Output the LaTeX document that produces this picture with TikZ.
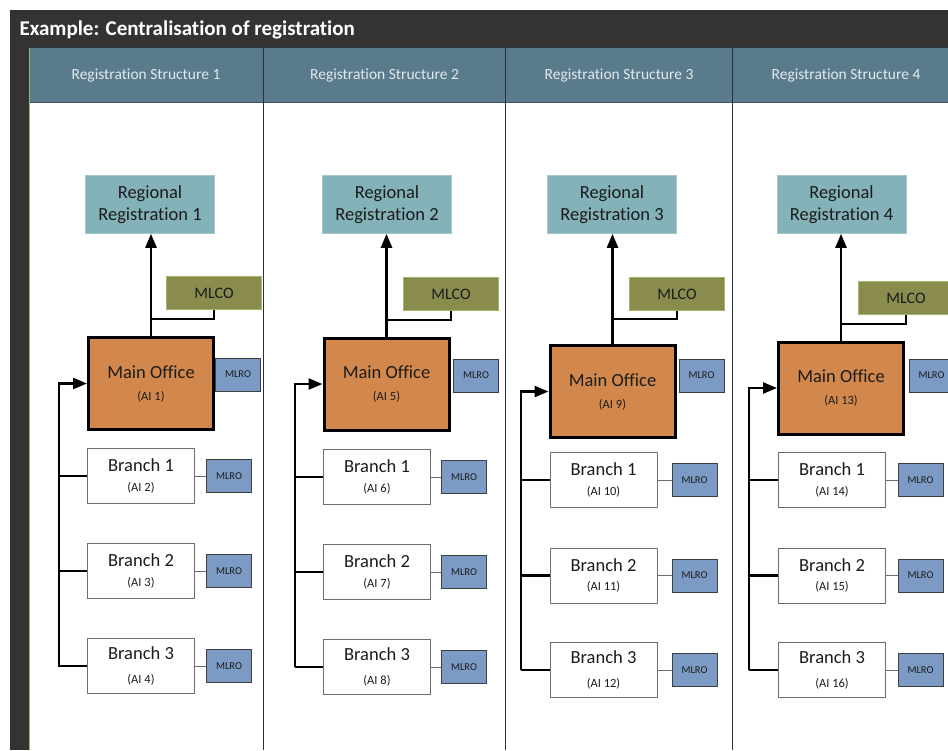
\documentclass[tikz,border=0pt]{standalone}
\usepackage{fontspec}
\setmainfont{Carlito}[Ligatures=NoCommon]
\usetikzlibrary{arrows.meta}

\definecolor{barbg}{HTML}{333333}
\definecolor{headbg}{HTML}{5A7B8C}
\definecolor{headtxt}{HTML}{E2E9EC}
\definecolor{headline}{HTML}{3D5566}
\definecolor{coldiv}{HTML}{243340}
\definecolor{stripline}{HTML}{8DBA6C}
\definecolor{regfill}{HTML}{83B3B8}
\definecolor{regline}{HTML}{A3C8CC}
\definecolor{mlcofill}{HTML}{8A8C4E}
\definecolor{mlcoline}{HTML}{A6B56B}
\definecolor{mofill}{HTML}{D2884C}
\definecolor{mlrofill}{HTML}{7B9BC4}
\definecolor{mlroline}{HTML}{3E3E3E}
\definecolor{brline}{HTML}{6E6E6E}
\definecolor{boxtxt}{HTML}{1C1C1C}

\newcommand{\aifont}{\fontsize{12.5}{14}\selectfont}

\begin{document}
\begin{tikzpicture}[x=1pt,y=-1pt,
  regbox/.style={fill=regfill, draw=regline, line width=0.6pt,
    minimum width=129pt, minimum height=58pt, inner sep=0pt, align=center,
    text=boxtxt, font=\fontsize{18.5}{21.7}\selectfont},
  mlcobox/.style={fill=mlcofill, draw=mlcoline, line width=0.8pt,
    minimum width=95pt, minimum height=33pt, inner sep=0pt,
    text=boxtxt, font=\fontsize{16}{18}\selectfont},
  mainbox/.style={fill=mofill, draw=black, line width=3pt,
    minimum width=125pt, minimum height=92pt, inner sep=0pt, align=center,
    text=boxtxt, font=\fontsize{18.5}{22}\selectfont},
  mlrobox/.style={fill=mlrofill, draw=mlroline, line width=0.8pt,
    minimum width=45pt, minimum height=33pt, inner sep=0pt,
    text=boxtxt, font=\fontsize{10.5}{12}\selectfont},
  branchbox/.style={fill=white, draw=brline, line width=1pt,
    minimum width=107pt, minimum height=55pt, inner sep=0pt, align=center,
    text=boxtxt, font=\fontsize{18.5}{19.5}\selectfont},
  headtext/.style={text=headtxt, font=\fontsize{15.5}{18}\selectfont},
  mainarrow/.style={line width=2.5pt, draw=black,
    -{Triangle[length=14pt,width=11pt]}},
  trunkline/.style={line width=2.3pt, draw=black},
  mlcolink/.style={line width=2pt, draw=black},
  mlrolink/.style={line width=0.9pt, draw=brline}
]
\useasboundingbox (0,0) rectangle (948,750);
\begin{scope}
\clip (0,0) rectangle (948,750);
\fill[white] (0,0) rectangle (948,750);

% title bar, left strip and header row
\fill[barbg] (10,10) rectangle (948,47);
\node[anchor=base west, text=white, font=\bfseries\fontsize{21}{24}\selectfont]
  (title) at (16,35) {Example: Centralisation of registration};
\fill[barbg] (10,47) rectangle (29,750);
\draw[stripline, line width=0.8pt] (29.5,47) -- (29.5,750);
\fill[headbg] (30,47) rectangle (948,102);
\draw[headline, line width=0.8pt] (30,102) -- (948,102);
\draw[coldiv, line width=0.8pt] (29,47) -- (948,47);
\foreach \cx in {263.5,505.5,732.5}
  \draw[coldiv, line width=1.2pt] (\cx,47) -- (\cx,750);

\node[headtext] (h1) at (146,75) {Registration Structure 1};
\node[headtext] (h2) at (384.5,75) {Registration Structure 2};
\node[headtext] (h3) at (619,75) {Registration Structure 3};
\node[headtext] (h4) at (846,75) {Registration Structure 4};

% ---------- structure 1 ----------
\node[regbox] (rr1) at (150,204.5) {Regional\\Registration 1};
\node[mlcobox] (mlco1) at (214,293) {MLCO};
\node[mainbox] (mo1) at (151,383.5) {Main Office\\{\aifont (AI 1)}};
\node[mlrobox] (mlm1) at (238,374.5) {MLRO};
\node[branchbox] (b11) at (141,476) {Branch 1\\{\aifont (AI 2)}};
\node[mlrobox] (ml11) at (229,476) {MLRO};
\node[branchbox] (b12) at (141,571) {Branch 2\\{\aifont (AI 3)}};
\node[mlrobox] (ml12) at (229,571) {MLRO};
\node[branchbox] (b13) at (141,666) {Branch 3\\[4pt]{\aifont (AI 4)}};
\node[mlrobox] (ml13) at (229,666) {MLRO};
\coordinate (j1) at (mo1.north |- 0,319);
\coordinate (t1) at (59,667);

% ---------- structure 2 ----------
\node[regbox] (rr2) at (387,204.5) {Regional\\Registration 2};
\node[mlcobox] (mlco2) at (451,294) {MLCO};
\node[mainbox] (mo2) at (386.5,384) {Main Office\\{\aifont (AI 5)}};
\node[mlrobox] (mlm2) at (476,375.5) {MLRO};
\node[branchbox] (b21) at (377,477) {Branch 1\\{\aifont (AI 6)}};
\node[mlrobox] (ml21) at (464,477) {MLRO};
\node[branchbox] (b22) at (377,572) {Branch 2\\{\aifont (AI 7)}};
\node[mlrobox] (ml22) at (464,572) {MLRO};
\node[branchbox] (b23) at (377,667) {Branch 3\\[4pt]{\aifont (AI 8)}};
\node[mlrobox] (ml23) at (464,667) {MLRO};
\coordinate (j2) at (mo2.north |- 0,320);
\coordinate (t2) at (295,667);

% ---------- structure 3 ----------
\node[regbox] (rr3) at (612,204.5) {Regional\\Registration 3};
\node[mlcobox] (mlco3) at (677,294) {MLCO};
\node[mainbox] (mo3) at (612.5,391.5) {Main Office\\{\aifont (AI 9)}};
\node[mlrobox] (mlm3) at (701.5,375.5) {MLRO};
\node[branchbox] (b31) at (603.5,480) {Branch 1\\{\aifont (AI 10)}};
\node[mlrobox] (ml31) at (694.5,480) {MLRO};
\node[branchbox] (b32) at (603.5,575.5) {Branch 2\\{\aifont (AI 11)}};
\node[mlrobox] (ml32) at (694.5,575.5) {MLRO};
\node[branchbox] (b33) at (603.5,670) {Branch 3\\[4pt]{\aifont (AI 12)}};
\node[mlrobox] (ml33) at (694.5,670) {MLRO};
\coordinate (j3) at (mo3.north |- 0,319);
\coordinate (t3) at (521,670);

% ---------- structure 4 ----------
\node[regbox] (rr4) at (841.5,204.5) {Regional\\Registration 4};
\node[mlcobox] (mlco4) at (906,298) {MLCO};
\node[mainbox] (mo4) at (841,388) {Main Office\\{\aifont (AI 13)}};
\node[mlrobox] (mlm4) at (931.5,375.5) {MLRO};
\node[branchbox] (b41) at (832,480) {Branch 1\\{\aifont (AI 14)}};
\node[mlrobox] (ml41) at (920.5,480) {MLRO};
\node[branchbox] (b42) at (832,575.5) {Branch 2\\{\aifont (AI 15)}};
\node[mlrobox] (ml42) at (920.5,575.5) {MLRO};
\node[branchbox] (b43) at (832,670) {Branch 3\\[4pt]{\aifont (AI 16)}};
\node[mlrobox] (ml43) at (920.5,670) {MLRO};
\coordinate (j4) at (mo4.north |- 0,324);
\coordinate (t4) at (749,670);

% ---------- connectors ----------
\foreach \n in {1,2,3,4} {
  \draw[mainarrow] (mo\n.north) -- (mo\n.north |- rr\n.south);
  \draw[mlcolink] (mlco\n.south) |- (j\n);
  \draw[mainarrow] (t\n) |- (mo\n.west);
  \foreach \b in {1,2,3} {
    \draw[trunkline] (t\n |- b\n\b.west) -- (b\n\b.west);
    \draw[mlrolink] (b\n\b.east) -- (ml\n\b.west);
  }
}
\end{scope}
\end{tikzpicture}
\end{document}
